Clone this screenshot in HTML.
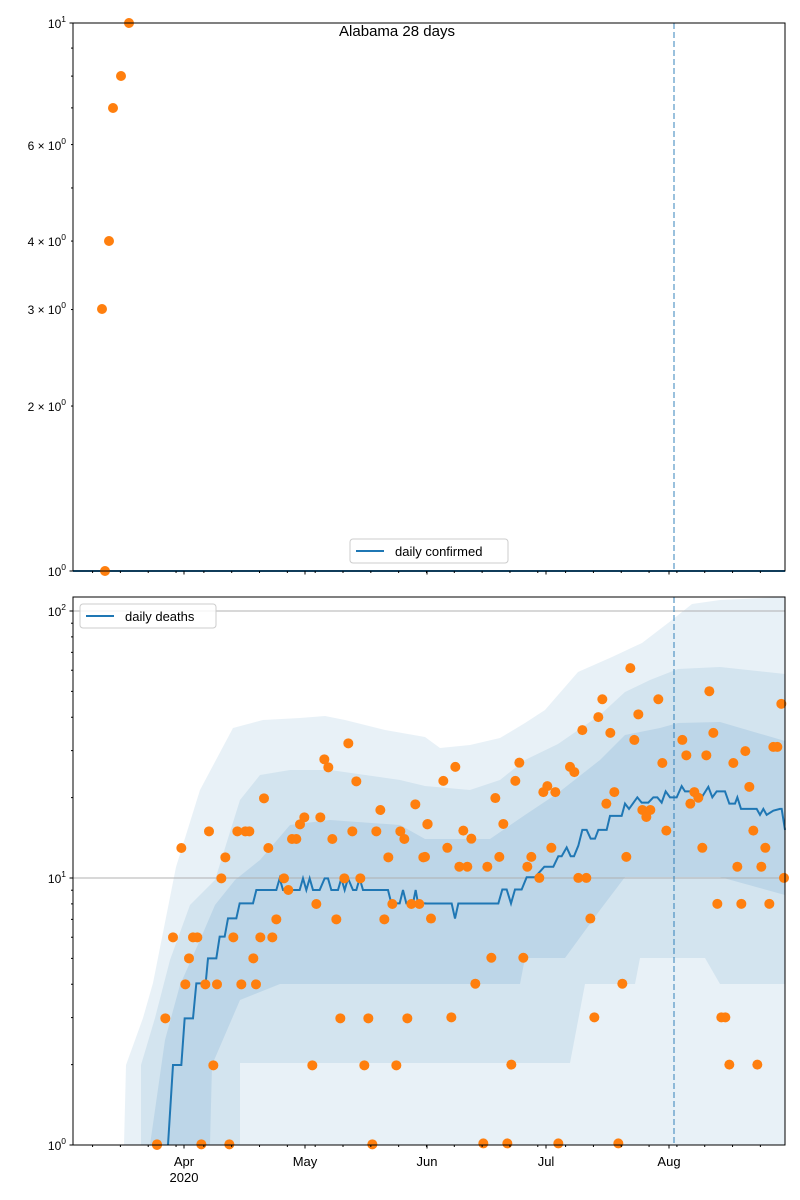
<!DOCTYPE html>
<html><head><meta charset="utf-8"><style>
html,body{margin:0;padding:0;background:#fff;}
svg{display:block;font-family:"Liberation Sans","DejaVu Sans",sans-serif;}
</style></head><body>
<svg id="s" width="800" height="1200" viewBox="0 0 800 1200" xmlns="http://www.w3.org/2000/svg">
<rect width="800" height="1200" fill="#fff"/>
<g id="bands"></g>
<line x1="73" y1="878" x2="785" y2="878" stroke="#b0b0b0" stroke-width="1"/>
<line x1="73" y1="611" x2="785" y2="611" stroke="#b0b0b0" stroke-width="1"/>
<polyline id="med" fill="none" stroke="#1f77b4" stroke-width="2"/>
<line x1="73" y1="571" x2="785" y2="571" stroke="#1f77b4" stroke-width="2"/>
<g id="dots" fill="#ff7f0e"></g>
<line x1="674" y1="23" x2="674" y2="571" stroke="#1f77b4" stroke-opacity="0.6" stroke-width="1.5" stroke-dasharray="6,3"/>
<line x1="674" y1="597" x2="674" y2="1145" stroke="#1f77b4" stroke-opacity="0.6" stroke-width="1.5" stroke-dasharray="6,3"/>
<rect x="73" y="23" width="712" height="548" fill="none" stroke="#000" stroke-width="1"/>
<rect x="73" y="597" width="712" height="548" fill="none" stroke="#000" stroke-width="1"/>
<g id="ticks" stroke="#000" stroke-width="1"></g>
<g font-size="12" fill="#000" text-anchor="end" id="ylab">
<text x="66" y="28">10<tspan font-size="8.5" dy="-6">1</tspan></text>
<text x="66" y="150">6 × 10<tspan font-size="8.5" dy="-6">0</tspan></text>
<text x="66" y="246">4 × 10<tspan font-size="8.5" dy="-6">0</tspan></text>
<text x="66" y="314">3 × 10<tspan font-size="8.5" dy="-6">0</tspan></text>
<text x="66" y="411">2 × 10<tspan font-size="8.5" dy="-6">0</tspan></text>
<text x="66" y="576">10<tspan font-size="8.5" dy="-6">0</tspan></text>
<text x="66" y="616">10<tspan font-size="8.5" dy="-6">2</tspan></text>
<text x="66" y="883">10<tspan font-size="8.5" dy="-6">1</tspan></text>
<text x="66" y="1150">10<tspan font-size="8.5" dy="-6">0</tspan></text>
</g>
<g font-size="13" text-anchor="middle" fill="#000">
<text x="184" y="1166">Apr</text><text x="184" y="1182">2020</text>
<text x="305" y="1166">May</text>
<text x="427" y="1166">Jun</text>
<text x="546" y="1166">Jul</text>
<text x="669" y="1166">Aug</text>
</g>
<text x="397" y="36" font-size="15" text-anchor="middle">Alabama 28 days</text>
<rect x="350" y="539" width="158" height="24" rx="3" fill="#fff" fill-opacity="0.85" stroke="#ccc"/>
<line x1="356" y1="551" x2="384" y2="551" stroke="#1f77b4" stroke-width="2"/>
<text x="395" y="556" font-size="13">daily confirmed</text>
<rect x="80" y="604" width="136" height="24" rx="3" fill="#fff" fill-opacity="0.85" stroke="#ccc"/>
<line x1="86" y1="616" x2="114" y2="616" stroke="#1f77b4" stroke-width="2"/>
<text x="125" y="621" font-size="13">daily deaths</text>
</svg>
<script>
var NS="http://www.w3.org/2000/svg";
function el(t,a,p){var e=document.createElementNS(NS,t);for(var k in a)e.setAttribute(k,a[k]);p.appendChild(e);return e;}
function pts(a){return a.map(function(p){return p[0]+","+p[1]}).join(" ");}
var bands=document.getElementById("bands");
var U1=[[124,1145],[126,1065],[143,1018],[153,983],[176,867],[200,790],[233,728],[263,720],[300,718],[325,716],[345,720],[385,730],[425,737],[440,748],[470,745],[500,738],[525,723],[545,710],[578,672],[612,657],[642,643],[672,620],[692,604],[720,600],[785,597],[785,1145]];
el("polygon",{points:pts(U1),fill:"#1f77b4","fill-opacity":"0.1"},bands);
var U2=[[141,1145],[141,1065],[155,1018],[170,960],[190,905],[215,880],[240,800],[260,775],[290,770],[330,770],[400,780],[425,786],[470,790],[500,780],[525,760],[558,744],[600,715],[625,692],[650,680],[678,669],[720,667],[785,674]];
var D2=[[785,984],[720,984],[705,958],[640,958],[635,984],[585,984],[570,1063],[240,1063],[240,1145]];
el("polygon",{points:pts(U2.concat(D2)),fill:"#1f77b4","fill-opacity":"0.1"},bands);
var U3=[[150,1145],[165,1040],[180,985],[200,940],[215,905],[235,880],[260,860],[290,825],[330,820],[400,825],[425,839],[490,839],[525,815],[558,793],[600,760],[625,735],[660,728],[678,723],[720,722],[785,741]];
var D3=[[785,895],[720,877],[625,877],[600,910],[565,958],[525,958],[520,984],[280,984],[240,1000],[212,1065],[210,1145]];
el("polygon",{points:pts(U3.concat(D3)),fill:"#1f77b4","fill-opacity":"0.12"},bands);

var Y2=2.855;
var z1=[[300,1095],[325,1095],[335,955],[360,955],[370,850],[398,850],[405,775],[430,775],[440,710],[455,710],[465,655],[490,655],[500,610],[540,610],[550,570],[610,570],[620,535],[630,570],[680,570],[690,535],[700,570],[710,535],[720,570],[740,570],[755,535],[765,535],[775,570],[795,570],[805,535],[815,570],[825,535],[840,570],[850,570],[860,535],[870,570],[945,570],[955,610],[980,610],[990,570],[1000,610],[1020,610],[1028,570],[1035,610],[1060,610]];
var z2=[[0,875],[80,875],[90,918],[100,875],[220,875],[232,835],[245,835],[258,875],[270,835],[290,835],[305,800],[330,800],[358,770],[385,770],[400,740],[410,740],[425,715],[437,740],[447,740],[460,710],[472,665],[485,665],[497,690],[510,690],[520,665],[545,665],[555,625],[590,625],[600,590],[612,605],[637,572],[650,587],[670,587],[685,572],[697,572],[710,587],[722,555],[735,572],[755,572],[770,540],[780,555],[795,555],[810,572],[830,572],[850,542],[862,572],[875,555],[900,555],[913,590],[930,590],[937,572],[948,605],[995,605],[1005,622],[1015,605],[1025,622],[1045,610],[1065,605],[1070,605],[1080,665]];
var med=[[168,1145]].concat(z1.map(function(p){return [73+p[0]/3,700+p[1]/3]})).concat(z2.map(function(p){return [425+p[0]/3,597+p[1]/Y2]}));
document.getElementById("med").setAttribute("points",pts(med));

var d1=[[252,1333],[277,955],[300,712],[325,444],[337,853],[348,775],[360,712],[373,712],[385,1333],[397,853],[408,394],[421,1096],[432,853],[445,535],[457,472],[469,1333],[481,712],[493,394],[505,853],[517,394],[529,394],[541,775],[549,853],[562,712],[573,295],[586,444],[598,712],[610,658],[633,535],[646,570],[657,417],[670,417],[681,373],[694,352],[718,1096],[730,612],[742,352],[754,178],[766,202],[778,417],[790,658],[802,955],[814,535],[826,130],[838,394],[850,244],[862,535],[874,1096],[886,955],[898,1333],[910,394],[922,330],[934,658],[946,472],[958,612],[970,1096],[982,394],[994,417],[1003,955],[1015,612],[1027,313],[1039,612],[1051,472],[1063,373]];
var d2=[[8,648],[0,742],[18,918],[55,525],[67,716],[79,1200],[91,485],[103,770],[115,667],[127,770],[139,690],[151,1104],[175,1560],[187,770],[199,1030],[211,574],[223,742],[235,648],[247,1560],[259,1335],[271,525],[283,473],[295,1030],[307,770],[319,742],[343,802],[355,557],[367,540],[379,716],[391,557],[400,1560],[435,485],[448,500],[460,802],[472,380],[484,802],[496,918],[508,1200],[520,343],[532,292],[544,590],[556,388],[568,557],[580,1560],[592,1104],[604,742],[616,203],[628,408],[640,335],[652,608],[664,628],[676,608],[700,292],[712,474],[724,667],[772,408],[784,452],[796,590],[808,557],[820,573],[832,716],[844,452],[853,269],[865,388],[877,876],[889,1200],[901,1200],[913,1335],[925,474],[937,770],[949,876],[961,440],[973,542],[985,667],[997,1335],[1009,770],[1021,716],[1033,876],[1045,428],[1057,428],[1069,305],[1077,802]];
var dots=document.getElementById("dots");
var all=d1.map(function(p){return [73+p[0]/3,700+p[1]/3]}).concat(d2.map(function(p){return [425+p[0]/3,597+p[1]/Y2]}));
all=all.concat([[102,309],[105,571],[109,241],[113,108],[121,76],[129,23],[157,1145]]);
all.forEach(function(p){el("circle",{cx:p[0],cy:Math.min(p[1],1145),r:5},dots);});

var tk=document.getElementById("ticks");
function ht(y,l){el("line",{x1:73-l,y1:y,x2:73,y2:y},tk);}
function vt(x,y,l){el("line",{x1:x,y1:y,x2:x,y2:y+l},tk);}
ht(23,3.5);ht(571,3.5);
[2,3,4,5,6,7,8,9].forEach(function(v){ht(571-Math.log10(v)*548,2);});
[0,1,2].forEach(function(d){ht(1145-d*267,3.5);});
[0,1].forEach(function(d){for(var v=2;v<=9;v++)ht(1145-(d+Math.log10(v))*267,2);});
var ppd=3.975,mar1=184-31*ppd;
[184,305,427,546,669].forEach(function(x){vt(x,571,3.5);vt(x,1145,3.5);});
for(var d=8;d<190;d+=7){var x=mar1+d*ppd;if(x>73&&x<785){vt(x,571,2);vt(x,1145,2);}}
</script>
</body></html>
